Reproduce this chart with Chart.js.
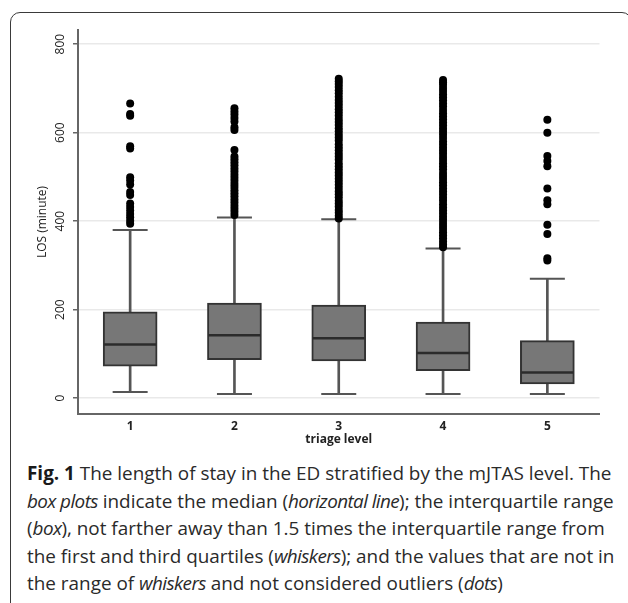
<!DOCTYPE html>
<html lang="en">
  <head>
    <meta charset="UTF-8" />
    <script src="https://cdn.jsdelivr.net/npm/chart.js"></script>
    <title>LOS by triage level</title>
    <style>
      html,
      body {
        margin: 0;
        padding: 0;
        width: 628px;
        height: 603px;
        overflow: hidden;
        background: #fff;
      }
      #frame {
        position: absolute;
        left: 10px;
        top: 12px;
        width: 620px;
        height: 640px;
        border: 1.5px solid #3a3a3a;
        border-radius: 10px;
      }
      #chartBox {
        position: absolute;
        left: 0;
        top: 0;
        width: 628px;
        height: 460px;
      }
      #caption {
        position: absolute;
        left: 27px;
        top: 460px;
        font-family: "Open Sans", sans-serif;
        font-size: 18.9px;
        line-height: 27.5px;
        color: #2a2a2a;
        white-space: nowrap;
      }
      #caption b {
        color: #1a1a1a;
      }
      #caption i {
        letter-spacing: -0.6px;
      }
    </style>
  </head>
  <body>
    <div id="frame"></div>
    <div id="chartBox"><canvas id="myChart"></canvas></div>
    <div id="caption">
      <b>Fig. 1</b> The length of stay in the ED stratified by the mJTAS level. The<br />
      <i>box plots</i> indicate the median (<i>horizontal line</i>); the interquartile range<br />
      (<i>box</i>), not farther away than 1.5 times the interquartile range from<br />
      the first and third quartiles (<i>whiskers</i>); and the values that are not in<br />
      the range of <i>whiskers</i> and not considered outliers (<i>dots</i>)
    </div>
  </body>
</html>
<script>
  // values (minutes)
  const levels = ["1", "2", "3", "4", "5"];
  const whiskerLow = [14, 9, 9, 9, 9];
  const q1 = [72, 87, 84, 62, 32];
  const median = [121, 142, 135, 102, 58];
  const q3 = [195, 215, 210, 172, 130];
  const whiskerHigh = [380, 408, 404, 338, 270];

  const out1 = [666, 642, 638, 569, 564, 499, 492, 483, 466, 459, 440, 432, 424, 416, 409, 401, 394];
  const out2 = [655, 648, 641, 633, 625, 612, 606, 561, 546, 540, 533, 526, 519, 512, 505, 498, 491,
    484, 477, 470, 463, 456, 449, 442, 435, 428, 421, 414];
  const out3 = [406, 412, 419, 425, 433, 440, 446, 454, 461, 467, 475, 482, 489, 496, 503, 510, 517,
    524, 531, 539, 546, 553, 560, 567, 574, 582, 589, 596, 603, 610, 617, 624, 631, 639, 646, 653,
    660, 667, 674, 681, 689, 696, 703, 710, 716, 722];
  const out4 = [341, 347, 354, 361, 368, 375, 382, 389, 396, 403, 410, 417, 424, 431, 438, 446, 453,
    460, 467, 474, 481, 488, 495, 502, 509, 517, 524, 531, 538, 545, 552, 559, 566, 573, 580, 588,
    595, 602, 609, 616, 623, 630, 637, 644, 651, 659, 666, 673, 680, 687, 694, 701, 708, 714, 719];
  const out5 = [629, 600, 547, 536, 524, 474, 447, 438, 392, 371, 316, 311];
  const outliers = [out1, out2, out3, out4, out5];

  const yTicks = [0, 200, 400, 600, 800];

  const fontFamily = '"Open Sans", sans-serif';

  const outlierPoints = outliers.flatMap((list, i) =>
    list.map((v) => ({ x: levels[i], y: v }))
  );
  const capPoints = levels
    .map((l, i) => ({ x: l, y: whiskerLow[i] }))
    .concat(levels.map((l, i) => ({ x: l, y: whiskerHigh[i] })));
  const medianPoints = levels.map((l, i) => ({ x: l, y: median[i] }));

  // rotated y tick labels, like the original figure
  const yLabels = {
    id: "yLabels",
    afterDraw(chart) {
      const { ctx } = chart;
      const y = chart.scales.y;
      ctx.save();
      ctx.font = "12px " + fontFamily;
      ctx.fillStyle = "#222";
      ctx.textAlign = "center";
      ctx.textBaseline = "middle";
      yTicks.forEach((v) => {
        ctx.save();
        ctx.translate(61, y.getPixelForValue(v));
        ctx.rotate(-Math.PI / 2);
        ctx.fillText(String(v), 0, 0);
        ctx.restore();
      });
      ctx.restore();
    },
  };

  const ctx = document.getElementById("myChart").getContext("2d");
  const myChart = new Chart(ctx, {
    type: "bar",
    data: {
      labels: levels,
      datasets: [
        {
          type: "line",
          data: outlierPoints,
          showLine: false,
          pointRadius: 4,
          pointBackgroundColor: "#000",
          pointBorderWidth: 0,
        },
        {
          type: "line",
          data: medianPoints,
          showLine: false,
          pointStyle: "line",
          pointRadius: 26,
          pointBorderColor: "#2b2b2b",
          pointBorderWidth: 2.5,
        },
        {
          type: "line",
          data: capPoints,
          showLine: false,
          pointStyle: "line",
          pointRadius: 17.5,
          pointBorderColor: "#555",
          pointBorderWidth: 2,
        },
        {
          data: levels.map((l, i) => [q1[i], q3[i]]),
          grouped: false,
          barThickness: 54,
          backgroundColor: "#777777",
          borderColor: "#333",
          borderWidth: 2,
          borderSkipped: false,
        },
        {
          data: levels.map((l, i) => [whiskerLow[i], whiskerHigh[i]]),
          grouped: false,
          barThickness: 2,
          backgroundColor: "#555",
          borderWidth: 0,
        },
      ],
    },
    options: {
      responsive: true,
      maintainAspectRatio: false,
      animation: false,
      layout: { padding: { left: 0, right: 20, top: 30, bottom: 0 } },
      plugins: {
        legend: { display: false },
        tooltip: { enabled: false },
      },
      scales: {
        x: {
          offset: true,
          grid: { display: false, drawTicks: false },
          border: { color: "#666", width: 2 },
          ticks: {
            color: "#222",
            padding: 5,
            font: { family: fontFamily, size: 12, weight: "bold" },
          },
          title: {
            display: true,
            text: "triage level",
            color: "#222",
            font: { family: fontFamily, size: 12, weight: "bold" },
            padding: { top: 0, bottom: 13 },
          },
          afterFit: (s) => {
            s.height = 46;
          },
        },
        y: {
          min: -36,
          max: 832,
          afterBuildTicks: (s) => {
            s.ticks = yTicks.map((v) => ({ value: v }));
          },
          grid: {
            color: "#e9e9e9",
            lineWidth: 1.5,
            tickLength: 5,
            tickColor: "#666",
            tickWidth: 1.5,
          },
          border: { color: "#666", width: 2 },
          ticks: { display: false },
          title: {
            display: true,
            text: "LOS (minute)",
            color: "#222",
            font: { family: fontFamily, size: 12 },
            padding: { top: 35, bottom: 0 },
          },
          afterFit: (s) => {
            s.width = 78;
          },
        },
      },
    },
    plugins: [yLabels],
  });
</script>
